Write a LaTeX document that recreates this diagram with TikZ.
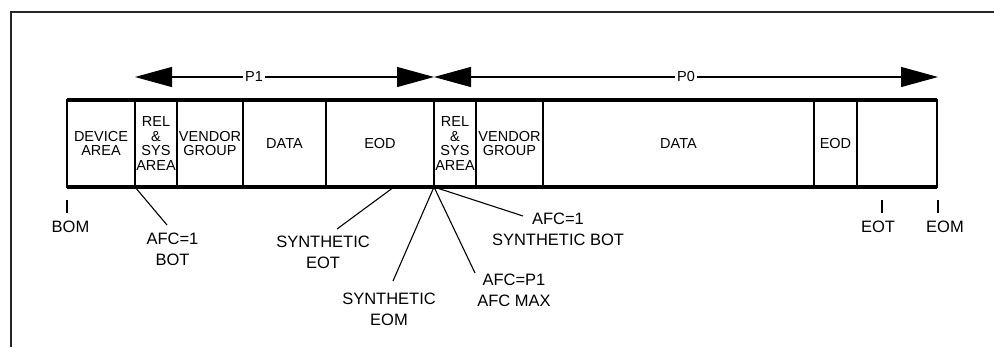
\documentclass[tikz,border=0pt]{standalone}
\usepackage{fontspec}
\setmainfont{Liberation Sans}
\usetikzlibrary{arrows.meta}
\begin{document}
\begin{tikzpicture}[x=1pt,y=-1pt,
  cell/.style={draw,line width=1.3pt,inner sep=0pt,outer sep=0pt,minimum height=87pt,align=center,
    font=\fontsize{14.5}{14.5}\selectfont},
  lbl/.style={anchor=north,inner sep=0pt,align=center,font=\fontsize{16.5}{20.5}\selectfont},
  leader/.style={line width=1.1pt},
  bigarrow/.style={line width=1.1pt,{Triangle[length=37pt,width=20pt]}-{Triangle[length=37pt,width=20pt]}},
  plabel/.style={fill=white,inner sep=2pt,font=\fontsize{14.5}{14.5}\selectfont}]
\useasboundingbox (0,0) rectangle (994,347);
% frame
\coordinate (fbl) at (11,347);
\coordinate (ftl) at (11,12);
\coordinate (ftr) at (994,12);
\draw[line width=1.1pt,black!85] (fbl) -- (ftl) -- (ftr);
% cells
\node[cell,minimum width=68pt] (c1) at (101,143.5) {DEVICE\\AREA};
\node[cell,minimum width=42pt] (c2) at (156,143.5) {REL\\\&\\SYS\\AREA};
\node[cell,minimum width=66pt] (c3) at (210,143.5) {VENDOR\\GROUP};
\node[cell,minimum width=83pt] (c4) at (284.5,143.5) {DATA};
\node[cell,minimum width=108pt] (c5) at (380,143.5) {EOD};
\node[cell,minimum width=42pt] (c6) at (455,143.5) {REL\\\&\\SYS\\AREA};
\node[cell,minimum width=67pt] (c7) at (509.5,143.5) {VENDOR\\GROUP};
\node[cell,minimum width=271pt] (c8) at (678.5,143.5) {DATA};
\node[cell,minimum width=43pt] (c9) at (835.5,143.5) {EOD};
\node[cell,minimum width=80pt] (c10) at (897,143.5) {};
\draw[line width=3.5pt] (c1.north west) -- (c10.north east);
\draw[line width=3.5pt] (c1.south west) -- (c10.south east);
% partition arrows
\coordinate (p1l) at (135,77);
\coordinate (p1r) at (434,77);
\coordinate (p0l) at (434,77);
\coordinate (p0r) at (938,77);
\draw[bigarrow] (p1l) -- (p1r);
\draw[bigarrow] (p0l) -- (p0r);
\node[plabel] (P1) at (254,77) {P1};
\node[plabel] (P0) at (686,77) {P0};
% ticks
\coordinate (bomt) at (67,200); \coordinate (bomb) at (67,213);
\coordinate (eott) at (882,200); \coordinate (eotb) at (882,213);
\coordinate (eomt) at (938,200); \coordinate (eomb) at (938,213);
\draw[line width=1.1pt] (bomt) -- (bomb);
\draw[line width=1.1pt] (eott) -- (eotb);
\draw[line width=1.1pt] (eomt) -- (eomb);
\node[lbl] (bom) at (70.5,221) {BOM};
\node[lbl] (eot) at (878,221) {EOT};
\node[lbl] (eom) at (945,221) {EOM};
% labels
\node[lbl] (afcbot) at (172.5,233) {AFC=1\\BOT};
\node[lbl] (seot) at (323,236) {SYNTHETIC\\EOT};
\node[lbl] (seom) at (389,293) {SYNTHETIC\\EOM};
\node[lbl] (afcmax) at (514,274) {AFC=P1\\AFC MAX};
\node[lbl] (sbot) at (558,213) {AFC=1\\SYNTHETIC BOT};
% leaders
\coordinate (s1) at (135,187);
\coordinate (s2) at (394,187);
\coordinate (s3) at (434,187);
\coordinate (e1) at (167,225);
\coordinate (e2) at (337,229);
\coordinate (e3) at (393,281);
\coordinate (e4) at (475,273);
\coordinate (e5) at (523,216);
\draw[leader] (s1) -- (e1);
\draw[leader] (s2) -- (e2);
\draw[leader] (s3) -- (e3);
\draw[leader] (s3) -- (e4);
\draw[leader] (s3) -- (e5);
\end{tikzpicture}
\end{document}
